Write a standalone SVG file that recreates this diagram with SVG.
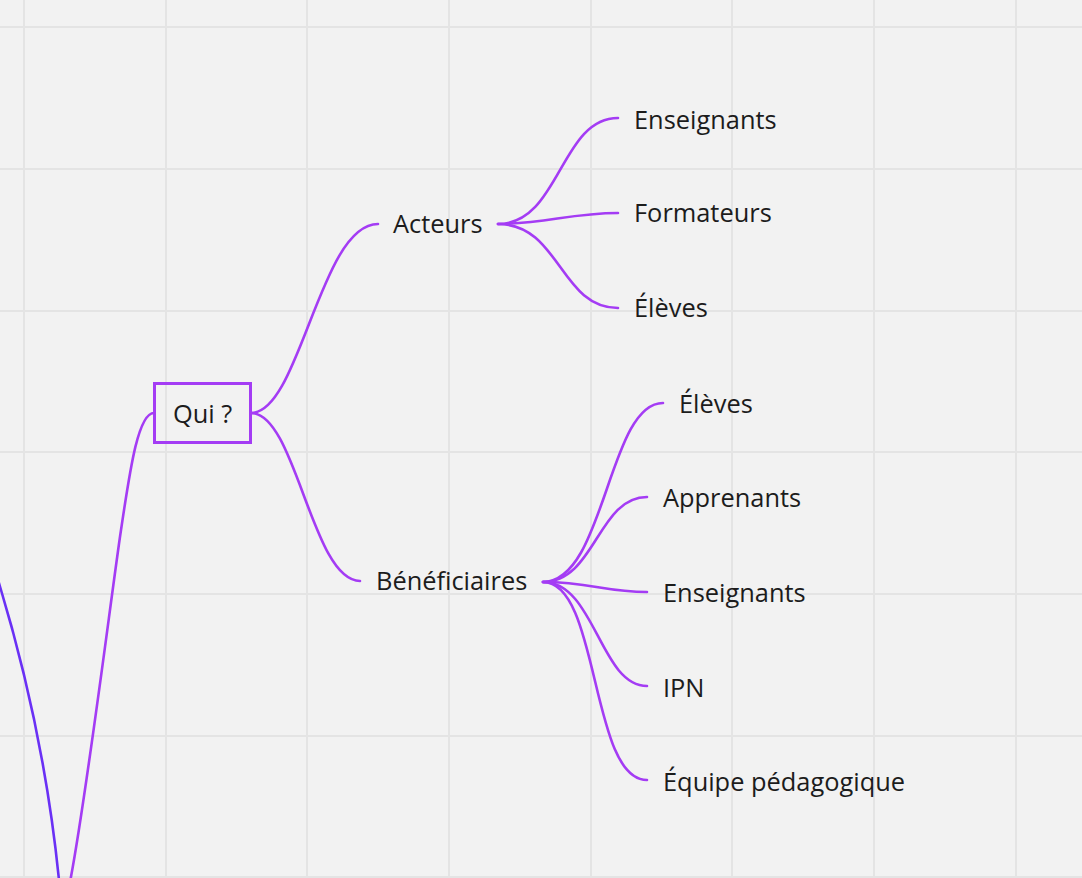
<svg xmlns="http://www.w3.org/2000/svg" width="1082" height="878" viewBox="0 0 1082 878">
<style>
.grid{stroke:#e4e4e4;stroke-width:2;fill:none}
.c{fill:none;stroke:#a43cf4;stroke-width:2.6;stroke-linecap:round}
.cb{fill:none;stroke:#6a30f5;stroke-width:2.6}
.t{font-family:"Open Sans","Noto Sans",sans-serif;font-size:25.4px;fill:#1c1c1c}
.box{fill:none;stroke:#a43cf4;stroke-width:3}
</style>
<rect width="1082" height="878" fill="#f2f2f2"/>
<g id="grid" class="grid">
<path d="M24,0V878M166,0V878M307,0V878M449,0V878M591,0V878M732,0V878M874,0V878M1016,0V878"/>
<path d="M0,27H1082M0,169H1082M0,311H1082M0,452H1082M0,594H1082M0,736H1082M0,877H1082"/>
</g>
<g id="connectors">
<path class="cb" d="M-2,580 Q44,730 59,880"/>
<path class="c" d="M154,413 C138,413 130,470 121,530 S86,800 70,882"/>
<path class="c" d="M251,413 C300,413 320,224 378,224"/>
<path class="c" d="M251,413 C296,413 312,581 360,581"/>
<path class="c" d="M498,224 C560,224 560,118 618,118"/>
<path class="c" d="M498,224 C545,224 570,213 618,213"/>
<path class="c" d="M498,224 C560,224 560,308 618,308"/>
<path class="c" d="M543,582 C605,582 608,403 663,403"/>
<path class="c" d="M543,582 C595,582 598,497 647,497"/>
<path class="c" d="M543,582 C590,582 605,592 647,592"/>
<path class="c" d="M543,582 C595,582 600,686 647,686"/>
<path class="c" d="M543,582 C600,582 590,780 647,780"/>
</g>
<g id="qui"><rect class="box" x="154.5" y="383.5" width="96" height="59"/><text class="t" x="173" y="423">Qui ?</text></g>
<g id="acteurs"><text class="t" x="393" y="233">Acteurs</text></g>
<g id="beneficiaires"><text class="t" x="376" y="590">Bénéficiaires</text></g>
<g id="a-enseignants"><text class="t" x="634" y="129">Enseignants</text></g>
<g id="a-formateurs"><text class="t" x="634" y="222">Formateurs</text></g>
<g id="a-eleves"><text class="t" x="634" y="317">Élèves</text></g>
<g id="b-eleves"><text class="t" x="679" y="413">Élèves</text></g>
<g id="b-apprenants"><text class="t" x="663" y="507">Apprenants</text></g>
<g id="b-enseignants"><text class="t" x="663" y="602">Enseignants</text></g>
<g id="b-ipn"><text class="t" x="663" y="697">IPN</text></g>
<g id="b-equipe"><text class="t" x="663" y="791">Équipe pédagogique</text></g>
</svg>
